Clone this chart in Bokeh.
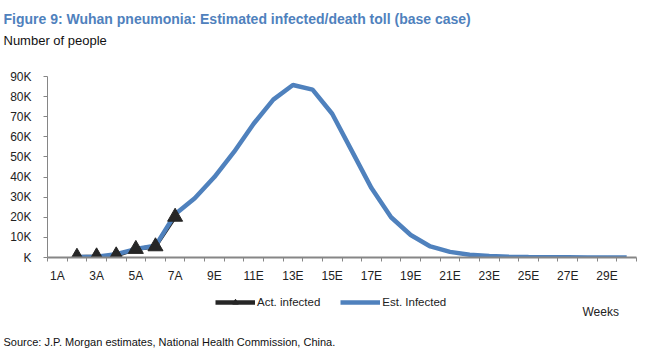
import numpy as np
from bokeh.plotting import figure
from bokeh.layouts import column
from bokeh.models import Range1d, FixedTicker, Label, Legend, LegendItem, ColumnDataSource, Title
from bokeh.embed import file_html
from bokeh.resources import INLINE

nan = np.nan

# ---- data ----
weeks = ["1A", "2A", "3A", "4A", "5A", "6A", "7A",
         "8E", "9E", "10E", "11E", "12E", "13E", "14E", "15E", "16E", "17E", "18E", "19E",
         "20E", "21E", "22E", "23E", "24E", "25E", "26E", "27E", "28E", "29E", "30E"]
week_num = list(range(1, 31))
act_infected = [nan, 300, 500, 1000, 4200, 5500, 20200,
                nan, nan, nan, nan, nan, nan, nan, nan, nan, nan, nan, nan,
                nan, nan, nan, nan, nan, nan, nan, nan, nan, nan, nan]
est_infected = [nan, 200, 400, 1600, 4200, 5800, 21500,
                29500, 40000, 52500, 66500, 78500, 85800, 83500, 71500, 53000, 34500, 20000, 11200,
                5500, 2800, 1400, 700, 350, 200, 120, 80, 50, 30, 20]
y_ticks = [0, 10000, 20000, 30000, 40000, 50000, 60000, 70000, 80000, 90000]
y_tick_labels = ["K", "10K", "20K", "30K", "40K", "50K", "60K", "70K", "80K", "90K"]
series_names = ["Act. infected", "Est. Infected"]

title_text = "Figure 9: Wuhan pneumonia: Estimated infected/death toll (base case)"
subtitle_text = "Number of people"
source_text = "Source: J.P. Morgan estimates, National Health Commission, China."
x_unit_text = "Weeks"

FONT = "Liberation Sans"
BLUE = "#4f81bd"
DARK = "#262626"
AXIS = "#868686"
W = 642


def clean(f):
    f.outline_line_color = None
    f.xgrid.visible = False
    f.ygrid.visible = False
    f.background_fill_color = "white"
    f.border_fill_color = "white"


# ---- chart (with the heading as titles above the frame) ----
src = ColumnDataSource(dict(x=week_num, act=act_infected, est=est_infected))
p = figure(width=W, height=290, x_range=Range1d(0.5, 30.5), y_range=Range1d(0, 90000),
           output_backend="svg", toolbar_location=None,
           min_border_left=47, min_border_right=6, min_border_top=76, min_border_bottom=33)
clean(p)

p.title.text = title_text
p.title.align = "left"
p.title.offset = -44
p.title.standoff = 6
p.title.text_font = FONT
p.title.text_font_size = "14px"
p.title.text_font_style = "bold"
p.title.text_color = BLUE
# spacer between the subtitle and the frame, then the subtitle
p.add_layout(Title(text=" ", align="left", standoff=11, text_font=FONT,
                   text_font_size="13px", text_color="white"), "above")
p.add_layout(Title(text=subtitle_text, align="left", offset=-44, standoff=2,
                   text_font=FONT, text_font_size="13px", text_font_style="normal",
                   text_color="#111111"), "above")

p.line("x", "act", source=src, line_color=DARK, line_width=4)
p.line("x", "est", source=src, line_color=BLUE, line_width=4.5)
p.scatter("x", "act", source=src, marker="triangle", size=15, fill_color=DARK, line_color=DARK)

xa = p.xaxis[0]
xa.ticker = FixedTicker(ticks=week_num[0::2], minor_ticks=[w - 0.5 for w in week_num] + [30.5])
xa.major_label_overrides = {n: lab for n, lab in zip(week_num, weeks)}
xa.major_tick_out = 0
xa.major_tick_in = 0
xa.minor_tick_out = 4
xa.minor_tick_in = 0
xa.minor_tick_line_color = AXIS
xa.axis_line_color = AXIS
xa.axis_line_width = 2
xa.major_label_standoff = 7
xa.major_label_text_font = FONT
xa.major_label_text_font_size = "12px"
xa.major_label_text_color = "#222222"

ya = p.yaxis[0]
ya.ticker = FixedTicker(ticks=y_ticks, minor_ticks=[])
ya.major_label_overrides = {t: lab for t, lab in zip(y_ticks, y_tick_labels)}
ya.major_tick_out = 4
ya.major_tick_in = 0
ya.major_tick_line_color = AXIS
ya.minor_tick_out = 0
ya.minor_tick_in = 0
ya.axis_line_color = AXIS
ya.major_label_standoff = 12
ya.major_label_text_font = FONT
ya.major_label_text_font_size = "12px"
ya.major_label_text_color = "#222222"

# ---- footer: legend and unit in the frame (page-pixel data units), source as a title below ----
foot = figure(width=W, height=61, x_range=Range1d(47, 636), y_range=Range1d(331, 290),
              output_backend="svg", toolbar_location=None,
              x_axis_location=None, y_axis_location=None,
              min_border_left=47, min_border_right=6, min_border_top=0, min_border_bottom=20)
clean(foot)
foot.title.text = ""
lg_act_line = foot.line([nan], [nan], line_color=DARK, line_width=4.5)
lg_act_pts = foot.scatter([nan], [nan], marker="triangle", size=11, fill_color=DARK, line_color=DARK)
lg_est_line = foot.line([nan], [nan], line_color=BLUE, line_width=4.5)
legend = Legend(items=[LegendItem(label=series_names[0], renderers=[lg_act_line, lg_act_pts]),
                       LegendItem(label=series_names[1], renderers=[lg_est_line])],
                location=(168, 22), orientation="horizontal",
                glyph_width=40, glyph_height=14, label_height=14, label_standoff=2,
                spacing=20, padding=0, margin=0,
                border_line_color=None, background_fill_alpha=0,
                label_text_font=FONT, label_text_font_size="11.5px", label_text_color="#222222")
foot.add_layout(legend)
foot.add_layout(Label(x=582, y=311.7, text=x_unit_text, text_font=FONT, text_font_size="12px",
                      text_color="#222222", text_baseline="middle"))
foot.add_layout(Title(text=source_text, align="left", offset=-44, standoff=4,
                      text_font=FONT, text_font_size="11px", text_font_style="normal",
                      text_color="#111111"), "below")

layout = column(p, foot, spacing=0)
open("out.html", "w").write(file_html(layout, INLINE))
